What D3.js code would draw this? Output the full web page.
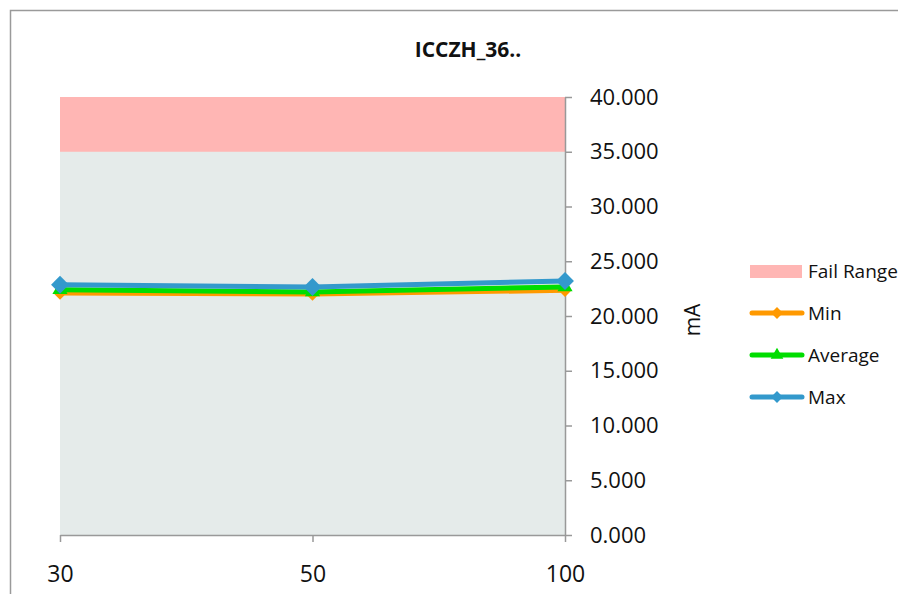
<!DOCTYPE html>
<html>
<head>
<meta charset="utf-8">
<script src="https://cdn.jsdelivr.net/npm/d3@7"></script>
<style>
  html, body { margin: 0; padding: 0; background: #fff; }
  svg { display: block; }
  text { font-family: "Open Sans", "Liberation Sans", sans-serif; fill: #111; }
</style>
</head>
<body>
<svg id="chart" width="898" height="594"></svg>
<script>
// Measured current per condition (mA)
const categories = ["30", "50", "100"];
const minValues = [22.1, 22.0, 22.35];
const avgValues = [22.4, 22.2, 22.65];
const maxValues = [22.85, 22.65, 23.2];
const failRange = [35, 40];
const yTicks = [0, 5, 10, 15, 20, 25, 30, 35, 40];
const chartTitle = "ICCZH_36..";
const yUnit = "mA";

// square diamond (rotated square) marker
const squareDiamond = {
  draw(context, size) {
    const r = Math.sqrt(size / 2);
    context.moveTo(0, -r);
    context.lineTo(r, 0);
    context.lineTo(0, r);
    context.lineTo(-r, 0);
    context.closePath();
  }
};

const series = [
  { name: "Min", values: minValues, color: "#FF9900", marker: "diamond", size: 90 },
  { name: "Average", values: avgValues, color: "#00DD00", marker: "triangle", size: 100 },
  { name: "Max", values: maxValues, color: "#3399CC", marker: "diamond", size: 160 }
];

const svg = d3.select("#chart");
const plot = { left: 60, right: 565, top: 97, bottom: 535 };

const x = d3.scalePoint().domain(categories).range([plot.left, plot.right]).padding(0);
const y = d3.scaleLinear().domain([0, 40]).range([plot.bottom, plot.top]);

// chart frame
svg.append("rect")
  .attr("x", 10.5).attr("y", 10.5)
  .attr("width", 1000).attr("height", 1000)
  .attr("fill", "#fff").attr("stroke", "#9a9a9a").attr("stroke-width", 1.5);

// title
svg.append("text")
  .attr("x", 468).attr("y", 57)
  .attr("text-anchor", "middle")
  .style("font-size", "21px").style("font-weight", "bold")
  .text(chartTitle);

// plot background
svg.append("rect")
  .attr("x", plot.left).attr("y", plot.top)
  .attr("width", plot.right - plot.left).attr("height", plot.bottom - plot.top)
  .attr("fill", "#E5EBEA");

// fail range band
svg.append("rect")
  .attr("x", plot.left).attr("y", y(failRange[1]))
  .attr("width", plot.right - plot.left)
  .attr("height", y(failRange[0]) - y(failRange[1]))
  .attr("fill", "#FFB6B4");

// y axis on the right
const yAxis = svg.append("g")
  .attr("transform", `translate(${plot.right},0)`)
  .call(d3.axisRight(y).tickValues(yTicks).tickFormat(d3.format(".3f")).tickSizeInner(7).tickSizeOuter(0).tickPadding(18));
yAxis.select(".domain").attr("stroke", "#999").attr("stroke-width", 1.5);
yAxis.selectAll(".tick line").attr("stroke", "#999").attr("stroke-width", 1.5);
yAxis.selectAll(".tick text")
  .style("font-size", "22px").style("font-family", "'Open Sans', sans-serif").attr("fill", "#111");

// x axis
const xAxis = svg.append("g")
  .attr("transform", `translate(0,${plot.bottom})`)
  .call(d3.axisBottom(x).tickSizeInner(7).tickSizeOuter(0).tickPadding(24));
xAxis.select(".domain").attr("stroke", "#999").attr("stroke-width", 1.5);
xAxis.selectAll(".tick line").attr("stroke", "#999").attr("stroke-width", 1.5);
xAxis.selectAll(".tick text")
  .style("font-size", "23px").style("font-family", "'Open Sans', sans-serif").attr("fill", "#111");

// y axis unit
svg.append("text")
  .attr("transform", "translate(700,320) rotate(-90)")
  .attr("text-anchor", "middle")
  .style("font-size", "21px")
  .text(yUnit);

const symbolFor = s => s.marker === "triangle" ? d3.symbolTriangle : squareDiamond;
const line = d3.line().x((d, i) => x(categories[i])).y(d => y(d));

// series lines and markers
series.forEach(s => {
  const g = svg.append("g");
  g.append("path")
    .datum(s.values)
    .attr("d", line)
    .attr("fill", "none")
    .attr("stroke", s.color)
    .attr("stroke-width", 5)
    .attr("stroke-linejoin", "round");
  g.selectAll("path.pt")
    .data(s.values)
    .join("path")
    .attr("class", "pt")
    .attr("transform", (d, i) => `translate(${x(categories[i])},${y(d)})`)
    .attr("d", d3.symbol().type(symbolFor(s)).size(s.size))
    .attr("fill", s.color);
});

// legend
const legend = svg.append("g");
const lx = 750;
legend.append("rect")
  .attr("x", lx).attr("y", 265).attr("width", 52).attr("height", 13)
  .attr("fill", "#FFB6B4");
legend.append("text")
  .attr("x", lx + 58).attr("y", 271).attr("dy", "0.35em")
  .style("font-size", "19px").text("Fail Range");

series.forEach((s, i) => {
  const ly = 313 + i * 42;
  legend.append("line")
    .attr("x1", lx + 2).attr("x2", lx + 52).attr("y1", ly).attr("y2", ly)
    .attr("stroke", s.color).attr("stroke-width", 5).attr("stroke-linecap", "round");
  legend.append("path")
    .attr("transform", `translate(${lx + 27},${ly})`)
    .attr("d", d3.symbol().type(symbolFor(s)).size(70))
    .attr("fill", s.color);
  legend.append("text")
    .attr("x", lx + 58).attr("y", ly).attr("dy", "0.35em")
    .style("font-size", "19px").text(s.name);
});
</script>
</body>
</html>
